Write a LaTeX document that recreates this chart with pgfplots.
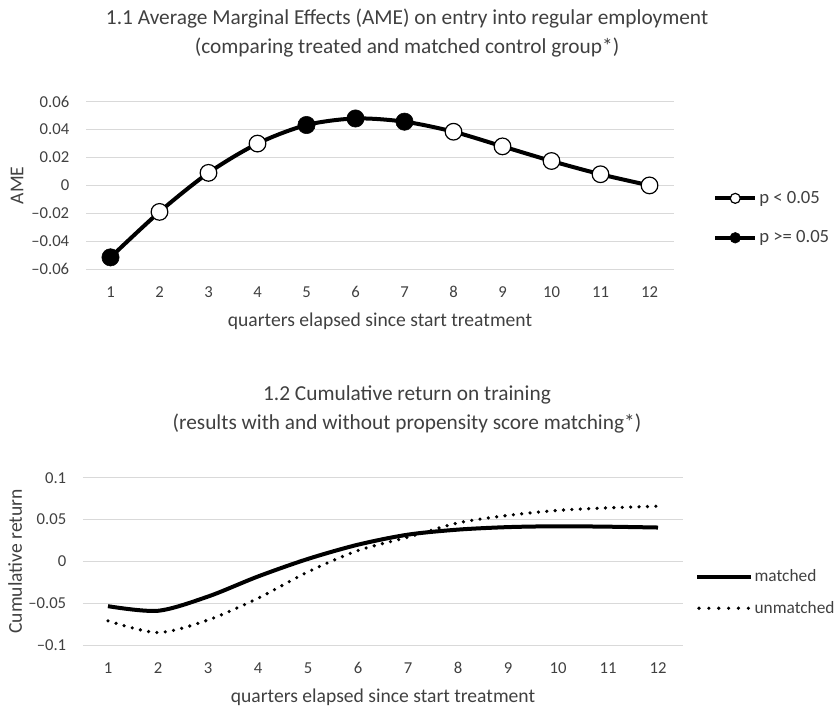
\documentclass[border=0pt]{standalone}
\usepackage{fontspec}
\setmainfont{Carlito}
\usepackage{pgfplots}
\pgfplotsset{compat=1.18}
\definecolor{txt}{HTML}{404040}
\definecolor{gridc}{HTML}{D9D9D9}

\pgfplotstableread{
x ame
1 -0.0516
2 -0.019
3 0.009
4 0.030
5 0.0433
6 0.048
7 0.0457
8 0.0385
9 0.028
10 0.0175
11 0.008
12 0.0
}\ametab

\pgfplotstableread{
x matched unmatched
1 -0.0535 -0.071
2 -0.059 -0.085
3 -0.042 -0.070
4 -0.018 -0.044
5 0.003 -0.0125
6 0.020 0.013
7 0.032 0.029
8 0.038 0.046
9 0.041 0.055
10 0.042 0.061
11 0.0415 0.064
12 0.0405 0.066
}\cumtab

\pgfplotsset{
 excel/.style={
  scale only axis, anchor=north west,
  xmin=0.5, xmax=12.5,
  xtick={1,...,12},
  scaled y ticks=false,
  axis line style={draw=none},
  major tick length=0pt,
  ymajorgrids, grid style={gridc, line width=0.75pt},
  tick label style={font=\fontsize{12.5}{15}\selectfont, text=txt},
  /pgf/number format/assume math mode=true,
  xticklabel style={anchor=center, yshift=-17.3pt},
  yticklabel style={anchor=east, inner sep=0pt, xshift=-12.4pt},
  label style={font=\fontsize{14.7}{17}\selectfont, text=txt},
  xlabel style={at={(axis description cs:0.5,-0.311)}, anchor=center},
  title style={font=\fontsize{16}{21.75}\selectfont, text=txt, align=center, anchor=center},
  legend style={draw=none, fill=none, inner sep=0pt, column sep=0pt, text=txt, cells={anchor=west}, nodes={inner sep=1.5pt}},
  legend cell align=left,
 }
}

\begin{document}
\begin{tikzpicture}
\useasboundingbox (0,0) rectangle (626.25pt,-531pt);

% ---------- 1.1 ----------
\begin{axis}[excel,
  at={(64.5pt,-76.3pt)}, width=441pt, height=125.5pt,
  ymin=-0.06, ymax=0.06,
  ytick={-0.06,-0.04,-0.02,0,0.02,0.04,0.06},
  yticklabels={\textendash0.06,\textendash0.04,\textendash0.02,0,0.02,0.04,0.06},
  title={1.1 Average Marginal Effects (AME) on entry into regular employment\\(comparing treated and matched control group*)},
  title style={at={(axis description cs:0.546,1.36)}},
  xlabel={quarters elapsed since start treatment},
  ylabel={AME},
  ylabel style={at={(axis description cs:-0.1173,0.5)}, anchor=center},
  legend style={at={(axis description cs:1.0663,0.3048)}, anchor=west, row sep=16pt, font=\fontsize{14}{16}\selectfont},
]
\addplot[black, line width=3pt, smooth, forget plot] table[x=x, y=ame] {\ametab};
\addplot[only marks, mark=*, mark size=6.25pt, mark options={draw=black, fill=white, line width=0.9pt}, forget plot]
  coordinates {(2,-0.019) (3,0.009) (4,0.030) (8,0.0385) (9,0.028) (10,0.0175) (11,0.008) (12,0.0)};
\addplot[only marks, mark=*, mark size=6.5pt, mark options={draw=black, fill=black}, forget plot]
  coordinates {(1,-0.0516) (5,0.0433) (6,0.048) (7,0.0457)};
\addlegendimage{legend image code/.code={
  \draw[black, line width=3pt, solid] (0pt,0pt) -- (30pt,0pt);
  \draw[black, fill=white, line width=0.9pt, solid] (15pt,0pt) circle (3.75pt);}}
\addlegendentry{p < 0.05}
\addlegendimage{legend image code/.code={
  \draw[black, line width=3pt, solid] (0pt,0pt) -- (30pt,0pt);
  \fill[black] (15pt,0pt) circle (4pt);}}
\addlegendentry{p >= 0.05}
\end{axis}

% ---------- 1.2 ----------
\begin{axis}[excel,
  at={(62.25pt,-358.3pt)}, width=450pt, height=125.5pt,
  ymin=-0.1, ymax=0.1,
  ytick={-0.1,-0.05,0,0.05,0.1},
  yticklabels={\textendash0.1,\textendash0.05,0,0.05,0.1},
  title={1.2 Cumulative return on training\\(results with and without propensity score matching*)},
  title style={at={(axis description cs:0.54,1.36)}},
  xlabel={quarters elapsed since start treatment},
  ylabel={Cumulative return},
  ylabel style={at={(axis description cs:-0.1133,0.5)}, anchor=center},
  legend style={at={(axis description cs:1.02,0.314)}, anchor=west, row sep=10pt, font=\fontsize{13}{15}\selectfont},
]
\addplot[black, line width=3pt, smooth, forget plot] table[x=x, y=matched] {\cumtab};
\addplot[black, line width=2.7pt, line cap=round, dash pattern=on 0pt off 6.3pt, smooth, forget plot] table[x=x, y=unmatched] {\cumtab};
\addlegendimage{legend image code/.code={
  \draw[black, line width=3pt, solid] (0pt,0pt) -- (40pt,0pt);}}
\addlegendentry{matched}
\addlegendimage{legend image code/.code={
  \draw[black, line width=2.7pt, line cap=round, dash pattern=on 0pt off 7.4pt] (1.3pt,0pt) -- (40pt,0pt);}}
\addlegendentry{unmatched}
\end{axis}
\end{tikzpicture}
\end{document}
